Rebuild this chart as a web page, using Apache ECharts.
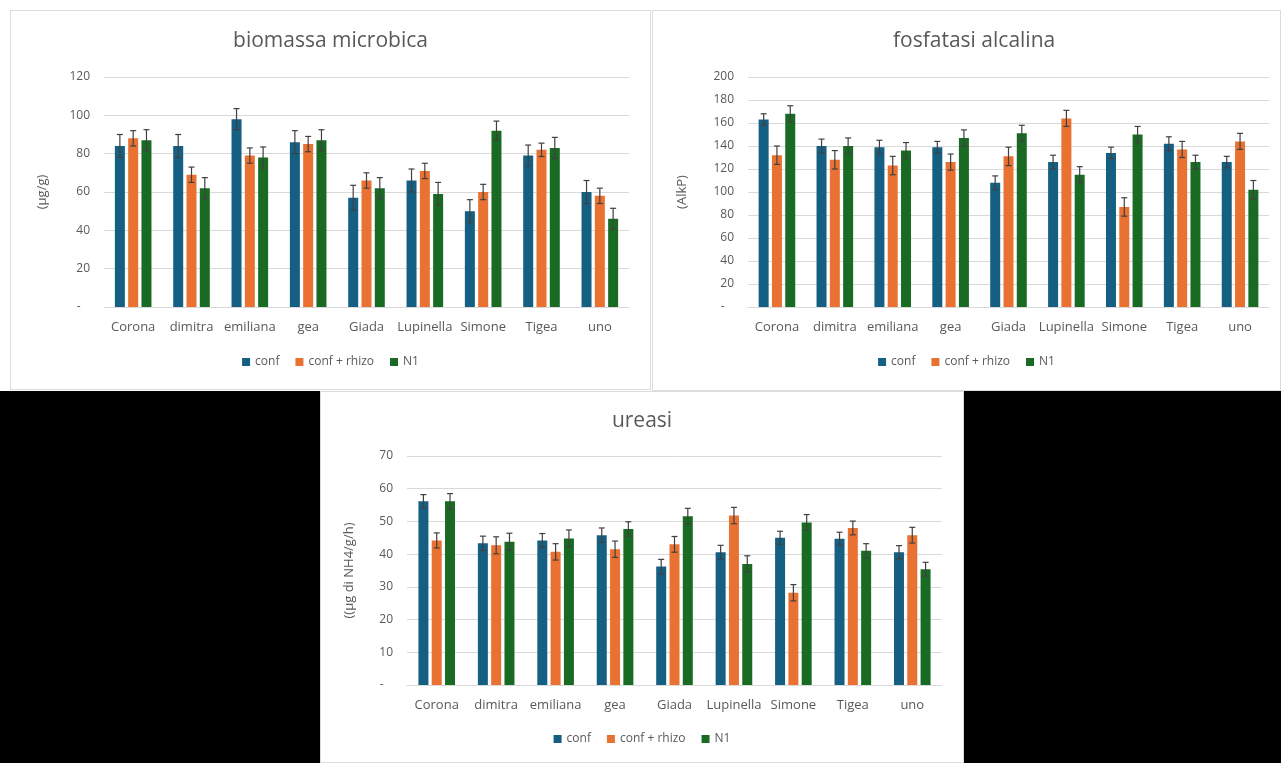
<!DOCTYPE html>
<html>
<head>
<meta charset="utf-8">
<script src="https://cdn.jsdelivr.net/npm/echarts@6/dist/echarts.min.js"></script>
<style>
  html, body { margin: 0; padding: 0; width: 1281px; height: 763px; background: #fff; overflow: hidden; }
  .blk { position: absolute; background: #000; }
  .panel { position: absolute; background: #fff; border: 1px solid #dcdcdc; box-sizing: border-box; }
</style>
</head>
<body>
<div class="blk" style="left:0;top:391px;width:320px;height:372px"></div>
<div class="blk" style="left:964px;top:391px;width:317px;height:372px"></div>
<div id="c1" class="panel" style="left:10px;top:10px;width:641px;height:380px"></div>
<div id="c2" class="panel" style="left:652px;top:10px;width:629px;height:381px"></div>
<div id="c3" class="panel" style="left:320px;top:391px;width:644px;height:372px"></div>
<script>
const categories = ['Corona', 'dimitra', 'emiliana', 'gea', 'Giada', 'Lupinella', 'Simone', 'Tigea', 'uno'];
const seriesNames = ['conf', 'conf + rhizo', 'N1'];
const colors = ['#156082', '#E97132', '#196B24'];

// biomassa microbica (µg/g)
const bioConf = [84, 84, 98, 86, 57, 66, 50, 79, 60];
const bioRhizo = [88, 69, 79, 85, 66, 71, 60, 82, 58];
const bioN1 = [87, 62, 78, 87, 62, 59, 92, 83, 46];
const bioErrConf = [6, 6, 5.5, 6, 6.5, 6, 6, 5.5, 6];
const bioErrRhizo = [4, 4, 4, 4, 4, 4, 4, 3.5, 4];
const bioErrN1 = [5.5, 5.5, 5.5, 5.5, 5.5, 6, 5, 5.5, 5.5];

// fosfatasi alcalina (AlkP)
const fosConf = [163, 140, 139, 139, 108, 126, 134, 142, 126];
const fosRhizo = [132, 128, 123, 126, 131, 164, 87, 137, 144];
const fosN1 = [168, 140, 136, 147, 151, 115, 150, 126, 102];
const fosErrConf = [5, 6, 6, 5, 6, 6, 5, 6, 5];
const fosErrRhizo = [8, 8, 8, 7, 8, 7, 8, 7, 7];
const fosErrN1 = [7, 7, 7, 7, 7, 7, 7, 6, 8];

// ureasi
const ureConf = [56.2, 43.3, 44.2, 45.8, 36.2, 40.6, 45, 44.7, 40.6];
const ureRhizo = [44.2, 42.7, 40.7, 41.5, 43, 51.8, 28.2, 48, 45.8];
const ureN1 = [56.2, 43.8, 44.8, 47.7, 51.6, 37, 49.7, 41, 35.4];
const ureErrConf = [2, 2.2, 2.1, 2.2, 2.2, 2.1, 2, 2, 2];
const ureErrRhizo = [2.3, 2.6, 2.5, 2.5, 2.4, 2.5, 2.5, 2.1, 2.4];
const ureErrN1 = [2.3, 2.6, 2.6, 2.2, 2.4, 2.5, 2.4, 2.2, 2.1];

const txt = '#595959';
const font = 'Open Sans';
const BAR_W = 10;
const BAR_STEP = 13.3;

function makeChart(id, cfg) {
    const chart = echarts.init(document.getElementById(id), null, { renderer: 'canvas' });
    const values = [cfg.conf, cfg.rhizo, cfg.n1];
    const errs = [cfg.errConf, cfg.errRhizo, cfg.errN1];

    const bars = values.map((vals, i) => ({
        name: seriesNames[i],
        type: 'bar',
        data: vals,
        barWidth: BAR_W,
        barGap: '33%',
        itemStyle: { color: colors[i] },
        silent: true
    }));

    // error bars, drawn over each bar
    const errorBars = values.map((vals, i) => ({
        name: 'err' + i,
        type: 'custom',
        z: 5,
        silent: true,
        data: vals.map((v, k) => [k, v, errs[i][k]]),
        renderItem: (params, api) => {
            const idx = api.value(0);
            const v = api.value(1);
            const e = api.value(2);
            const off = (i - 1) * BAR_STEP;
            const top = api.coord([idx, v + e]);
            const bot = api.coord([idx, v - e]);
            const x = top[0] + off;
            const st = { stroke: '#404040', lineWidth: 1.2 };
            return {
                type: 'group',
                children: [
                    { type: 'line', shape: { x1: x, y1: top[1], x2: x, y2: bot[1] }, style: st },
                    { type: 'line', shape: { x1: x - 3, y1: top[1], x2: x + 3, y2: top[1] }, style: st },
                    { type: 'line', shape: { x1: x - 3, y1: bot[1], x2: x + 3, y2: bot[1] }, style: st }
                ]
            };
        }
    }));

    const option = {
        animation: false,
        backgroundColor: '#fff',
        textStyle: { fontFamily: font },
        title: {
            text: cfg.title,
            left: cfg.titleLeft || 'center',
            top: cfg.titleTop,
            textStyle: { color: txt, fontSize: 21, fontWeight: 'normal', fontFamily: font }
        },
        legend: {
            data: seriesNames,
            bottom: cfg.legendBottom,
            left: 'center',
            icon: 'rect',
            itemWidth: 8,
            itemHeight: 8,
            itemGap: 16,
            textStyle: { color: txt, fontSize: 12, fontFamily: font }
        },
        grid: cfg.grid,
        xAxis: {
            type: 'category',
            data: categories,
            axisTick: { show: false },
            axisLine: { lineStyle: { color: '#d9d9d9' } },
            axisLabel: { color: txt, fontSize: 13, margin: 14, interval: 0 }
        },
        yAxis: {
            type: 'value',
            min: 0,
            max: cfg.max,
            interval: cfg.interval,
            name: cfg.yName,
            nameLocation: 'middle',
            nameRotate: 90,
            nameGap: cfg.nameGap,
            nameTextStyle: { color: txt, fontSize: 13 },
            axisLabel: {
                color: txt,
                fontSize: 12,
                margin: 14,
                formatter: (v) => (v === 0 ? '-   ' : String(v))
            },
            splitLine: { lineStyle: { color: '#d9d9d9' } }
        },
        series: bars.concat(errorBars)
    };
    chart.setOption(option);
    return chart;
}

makeChart('c1', {
    title: 'biomassa microbica', titleTop: 15, legendBottom: 16,
    conf: bioConf, rhizo: bioRhizo, n1: bioN1,
    errConf: bioErrConf, errRhizo: bioErrRhizo, errN1: bioErrN1,
    max: 120, interval: 20, yName: '(µg/g)', nameGap: 55,
    grid: { left: 93, right: 21, top: 66, bottom: 82 }
});

makeChart('c2', {
    title: 'fosfatasi alcalina', titleTop: 15, titleLeft: 235, legendBottom: 17,
    conf: fosConf, rhizo: fosRhizo, n1: fosN1,
    errConf: fosErrConf, errRhizo: fosErrRhizo, errN1: fosErrN1,
    max: 200, interval: 20, yName: '(AlkP)', nameGap: 59,
    grid: { left: 95, right: 11, top: 66, bottom: 83 }
});

makeChart('c3', {
    title: 'ureasi', titleTop: 14, legendBottom: 12,
    conf: ureConf, rhizo: ureRhizo, n1: ureN1,
    errConf: ureErrConf, errRhizo: ureErrRhizo, errN1: ureErrN1,
    max: 70, interval: 10, yName: '((µg di NH4/g/h)', nameGap: 51,
    grid: { left: 86, right: 21, top: 64, bottom: 77 }
});
</script>
</body>
</html>
